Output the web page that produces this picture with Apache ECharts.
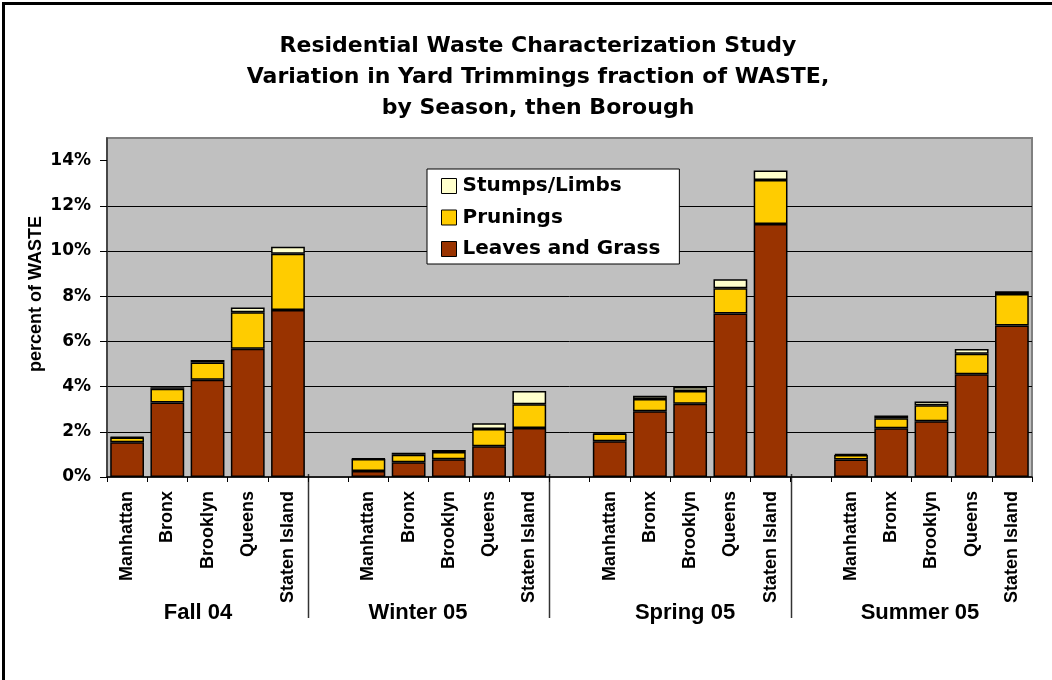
<!DOCTYPE html>
<html>
<head>
<meta charset="utf-8">
<script src="https://cdn.jsdelivr.net/npm/echarts@6/dist/echarts.min.js"></script>
<style>
  html, body { margin: 0; padding: 0; background: #ffffff; }
  #chart { width: 1052px; height: 680px; }
</style>
</head>
<body>
<div id="chart"></div>
<script>
// Seasons and boroughs of the residential waste study
const seasons = ['Fall 04', 'Winter 05', 'Spring 05', 'Summer 05'];
const boroughs = ['Manhattan', 'Bronx', 'Brooklyn', 'Queens', 'Staten Island'];

// Percent of WASTE, one value per borough, season by season
const leavesAndGrass = [
  1.54, 3.30, 4.30, 5.68, 7.39,    // Fall 04
  0.27, 0.65, 0.78, 1.36, 2.17,    // Winter 05
  1.58, 2.91, 3.24, 7.23, 11.19,   // Spring 05
  0.77, 2.16, 2.47, 4.55, 6.70     // Summer 05
];
const prunings = [
  0.21, 0.60, 0.77, 1.61, 2.49,
  0.53, 0.34, 0.33, 0.76, 1.05,
  0.34, 0.54, 0.56, 1.12, 1.95,
  0.20, 0.44, 0.70, 0.90, 1.40
];
const stumpsLimbs = [
  0.02, 0.07, 0.11, 0.21, 0.31,
  0.02, 0.08, 0.08, 0.26, 0.59,
  0.05, 0.14, 0.18, 0.40, 0.42,
  0.06, 0.12, 0.17, 0.21, 0.12
];

const yTicks = [0, 2, 4, 6, 8, 10, 12, 14];

const seriesNames = ['Leaves and Grass', 'Prunings', 'Stumps/Limbs'];
const seriesColors = ['#993300', '#FFCC00', '#FFFFCC'];

// Season label centres along the category axis
const seasonLabelX = [198, 418, 685, 920];

// Category list: the five boroughs of each season, with an empty slot between seasons
const categories = [];
const slotOf = [];
seasons.forEach((s, si) => {
  if (si > 0) categories.push('');
  boroughs.forEach((b, bi) => {
    slotOf.push(categories.length);
    categories.push(b);
  });
});

function spread(values) {
  const out = categories.map(() => '-');
  values.forEach((v, i) => { out[slotOf[i]] = v; });
  return out;
}

const BOLD_SANS = 'Liberation Sans, Arial, sans-serif';
const WIDE_SANS = 'DejaVu Sans, Verdana, sans-serif';

const chart = echarts.init(document.getElementById('chart'), null, { renderer: 'canvas' });

const option = {
  backgroundColor: '#ffffff',
  animation: false,
  title: {
    text: 'Residential Waste Characterization Study\nVariation in Yard Trimmings fraction of WASTE,\nby Season, then Borough',
    left: 538,
    top: 31,
    textAlign: 'center',
    padding: 0,
    textStyle: {
      fontFamily: WIDE_SANS,
      fontWeight: 'bold',
      fontSize: 22,
      lineHeight: 31,
      color: '#000000'
    }
  },
  legend: {
    data: ['Stumps/Limbs', 'Prunings', 'Leaves and Grass'],
    orient: 'vertical',
    left: 427,
    top: 169,
    padding: [7, 19, 5, 14],
    itemGap: 11.5,
    itemWidth: 15,
    itemHeight: 15,
    icon: 'rect',
    backgroundColor: '#ffffff',
    borderColor: '#000000',
    borderWidth: 1,
    itemStyle: { borderColor: '#000000', borderWidth: 1 },
    textStyle: {
      fontFamily: WIDE_SANS,
      fontWeight: 'bold',
      fontSize: 20,
      color: '#000000',
      padding: [0, 0, 0, 1]
    }
  },
  grid: {
    left: 107,
    top: 138,
    width: 925,
    height: 339,
    show: true,
    backgroundColor: '#C0C0C0',
    borderColor: '#808080',
    borderWidth: 2
  },
  xAxis: {
    type: 'category',
    data: categories,
    boundaryGap: true,
    axisLine: { show: true, lineStyle: { color: '#000000', width: 1.5 } },
    axisTick: { show: true, interval: 0, length: 5, lineStyle: { color: '#000000', width: 1 } },
    axisLabel: {
      interval: 0,
      rotate: 90,
      margin: 14,
      fontFamily: BOLD_SANS,
      fontWeight: 'bold',
      fontSize: 18,
      color: '#000000'
    },
    splitLine: { show: false }
  },
  yAxis: {
    type: 'value',
    min: 0,
    max: 15,
    interval: 2,
    axisLine: { show: true, lineStyle: { color: '#333333', width: 1.5 } },
    axisTick: {
      show: true,
      length: 7,
      customValues: yTicks,
      lineStyle: { color: '#000000', width: 1 }
    },
    axisLabel: {
      margin: 16,
      customValues: yTicks,
      fontFamily: WIDE_SANS,
      fontWeight: 'bold',
      fontSize: 17,
      color: '#000000',
      formatter: v => v + '%'
    },
    splitLine: {
      show: true,
      showMinLine: false,
      showMaxLine: false,
      lineStyle: { color: '#000000', width: 1 }
    }
  },
  series: [leavesAndGrass, prunings, stumpsLimbs].map((vals, k) => ({
    name: seriesNames[k],
    type: 'bar',
    stack: 'waste',
    barCategoryGap: '16%',
    data: spread(vals),
    itemStyle: {
      color: seriesColors[k],
      borderColor: '#000000',
      borderWidth: 1.5
    },
    emphasis: { disabled: true }
  }))
};

chart.setOption(option);

// Season separators, season labels, axis title and frame lines
const zeroY = chart.convertToPixel({ yAxisIndex: 0 }, 0);
const graphics = [];
[5, 11, 17].forEach(slot => {
  const a = chart.convertToPixel({ xAxisIndex: 0 }, slot - 1);
  const b = chart.convertToPixel({ xAxisIndex: 0 }, slot);
  const x = Math.round((a + b) / 2) + 0.5;
  graphics.push({
    type: 'line',
    shape: { x1: x, y1: zeroY - 3, x2: x, y2: 618 },
    style: { stroke: '#333333', lineWidth: 1.5 },
    silent: true
  });
});
seasons.forEach((s, i) => {
  graphics.push({
    type: 'text',
    x: seasonLabelX[i],
    y: 613,
    style: {
      text: s,
      fill: '#000000',
      font: 'bold 22px ' + BOLD_SANS,
      textAlign: 'center',
      textVerticalAlign: 'middle'
    },
    silent: true
  });
});
graphics.push({
  type: 'text',
  x: 36,
  y: 294,
  rotation: Math.PI / 2,
  style: {
    text: 'percent of WASTE',
    fill: '#000000',
    font: 'bold 18px ' + BOLD_SANS,
    textAlign: 'center',
    textVerticalAlign: 'middle'
  },
  silent: true
});
graphics.push({
  type: 'polyline',
  shape: { points: [[3.5, 680], [3.5, 3.5], [1052, 3.5]] },
  style: { stroke: '#000000', lineWidth: 3, fill: null },
  silent: true
});
chart.setOption({ graphic: graphics });
</script>
</body>
</html>
